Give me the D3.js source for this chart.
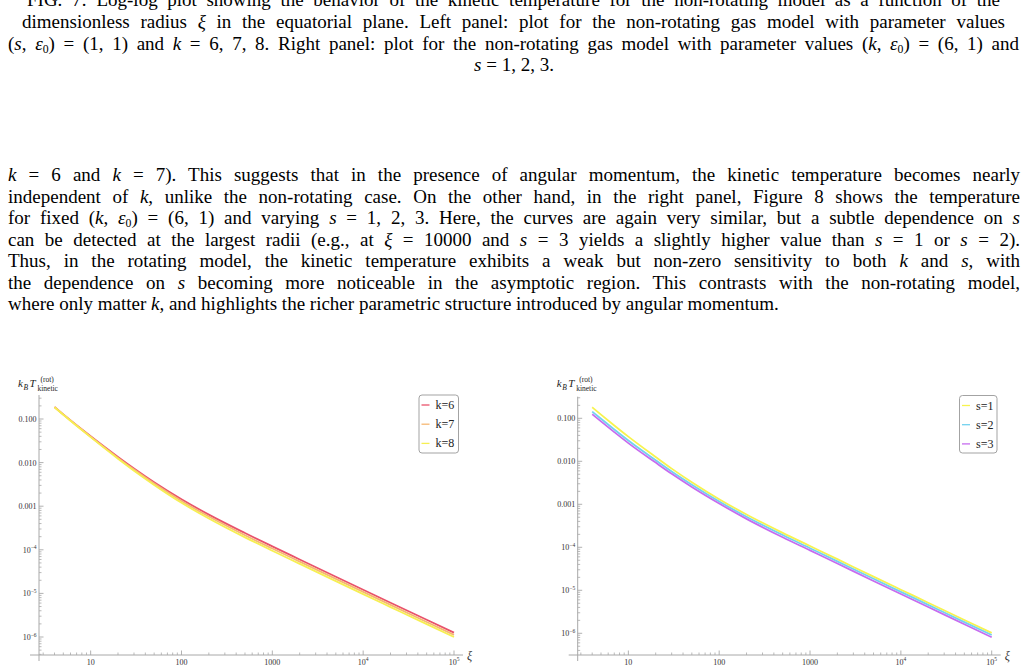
<!DOCTYPE html>
<html><head><meta charset="utf-8">
<script src="https://cdn.jsdelivr.net/npm/d3@7"></script>
<style>body{margin:0;background:#fff;} svg{display:block;}</style>
</head><body><svg id="c" width="1027" height="670"></svg>
<script>
// ---------- data ----------
const xi = [4, 5, 7, 10, 20, 30, 50, 100, 200, 500, 1000, 2000, 5000, 10000, 20000, 50000, 100000];
const T_k6 = [0.188, 0.1276, 0.0722, 0.0401, 0.01346, 0.00732, 0.003538, 0.001442, 6.41e-4, 2.423e-4, 1.199e-4, 6.004e-5, 2.412e-5, 1.213e-5, 6.115e-6, 2.48e-6, 1.256e-6];
const T_k7 = [0.1867, 0.1264, 0.0712, 0.0392, 0.01285, 0.00691, 0.003302, 0.001315, 5.78e-4, 2.16e-4, 1.069e-4, 5.35e-5, 2.15e-5, 1.081e-5, 5.45e-6, 2.21e-6, 1.119e-6];
const T_k8 = [0.1859, 0.1253, 0.0702, 0.0383, 0.01228, 0.00652, 0.003082, 0.0012, 5.21e-4, 1.925e-4, 9.52e-5, 4.77e-5, 1.916e-5, 9.63e-6, 4.86e-6, 1.97e-6, 9.98e-7];
const T_s1 = [0.1803, 0.1219, 0.0682, 0.03744, 0.01257, 0.006756, 0.003264, 0.001315, 5.78e-4, 2.16e-4, 1.069e-4, 5.29e-5, 2.077e-5, 1.033e-5, 5.148e-6, 2.039e-6, 1.021e-6];
const T_s2 = [0.1432, 0.0973, 0.0549, 0.03043, 0.01058, 0.005777, 0.002843, 0.001159, 5.13e-4, 1.925e-4, 9.53e-5, 4.715e-5, 1.851e-5, 9.21e-6, 4.588e-6, 1.817e-6, 9.1e-7];
const T_s3 = [0.1244, 0.0847, 0.0478, 0.0265, 0.00932, 0.005125, 0.002534, 0.001045, 4.59e-4, 1.716e-4, 8.49e-5, 4.2e-5, 1.65e-5, 8.2e-6, 4.09e-6, 1.62e-6, 8.11e-7];
const kLabels = ["k=6", "k=7", "k=8"];
const sLabels = ["s=1", "s=2", "s=3"];
const xMajor = [10, 100, 1000, 10000, 100000];
const xTickLabels = [["10",""], ["100",""], ["1000",""], ["10","4"], ["10","5"]];
const yMajor = [0.1, 0.01, 0.001, 1e-4, 1e-5, 1e-6];
const yTickLabels = [["0.100",""], ["0.010",""], ["0.001",""], ["10","\u22124"], ["10","\u22125"], ["10","\u22126"]];

const captionLines = [
  "FIG. 7: Log-log plot showing the behavior of the kinetic temperature for the non-rotating model as a function of the",
  "dimensionless radius {i:\u03be} in the equatorial plane. Left panel: plot for the non-rotating gas model with parameter values",
  "({i:s}, {i:\u03b5}{s:0}) = (1, 1) and {i:k} = 6, 7, 8. Right panel: plot for the non-rotating gas model with parameter values ({i:k}, {i:\u03b5}{s:0}) = (6, 1) and",
  "{i:s} = 1, 2, 3."
];
const paraLines = [
  "{i:k} = 6 and {i:k} = 7). This suggests that in the presence of angular momentum, the kinetic temperature becomes nearly",
  "independent of {i:k}, unlike the non-rotating case. On the other hand, in the right panel, Figure 8 shows the temperature",
  "for fixed ({i:k}, {i:\u03b5}{s:0}) = (6, 1) and varying {i:s} = 1, 2, 3. Here, the curves are again very similar, but a subtle dependence on {i:s}",
  "can be detected at the largest radii (e.g., at {i:\u03be} = 10000 and {i:s} = 3 yields a slightly higher value than {i:s} = 1 or {i:s} = 2).",
  "Thus, in the rotating model, the kinetic temperature exhibits a weak but non-zero sensitivity to both {i:k} and {i:s}, with",
  "the dependence on {i:s} becoming more noticeable in the asymptotic region. This contrasts with the non-rotating model,",
  "where only matter {i:k}, and highlights the richer parametric structure introduced by angular momentum."
];

// ---------- drawing ----------
const svg = d3.select("#c");
const SERIF = "'Liberation Serif','Times New Roman',serif";
const FS = 19;

function rich(g, str, x, y, width, size, anchor) {
  const t = g.append("text").attr("x", x).attr("y", y)
    .attr("font-family", SERIF).attr("font-size", size).attr("fill", "#000");
  if (anchor) t.attr("text-anchor", anchor);
  const re = /\{([is]):([^}]*)\}/g;
  let last = 0, m, pendingUp = false, plain = "";
  const push = (txt, italic, sub) => {
    plain += txt;
    const ts = t.append("tspan").text(txt);
    if (italic) ts.attr("font-style", "italic");
    if (sub) { ts.attr("font-size", size * 0.62).attr("dy", 3); }
    else if (pendingUp) { ts.attr("dy", -3); }
    pendingUp = !!sub;
  };
  while ((m = re.exec(str))) {
    if (m.index > last) push(str.slice(last, m.index), false, false);
    if (m[1] === "i") push(m[2], true, false); else push(m[2], false, true);
    last = re.lastIndex;
  }
  if (last < str.length) push(str.slice(last), false, false);
  if (width) {
    const nat = t.node().getComputedTextLength();
    const nSp = (plain.match(/ /g) || []).length;
    if (nSp > 0) t.attr("word-spacing", (width - nat) / nSp);
  }
}

// caption
const capG = svg.append("g");
const capBase = [6, 28, 49.5, 71];
const capX = [[27, 1000], [22, 1005], [8, 1019]];
captionLines.forEach((s, i) => {
  if (i < 3) rich(capG, s, capX[i][0], capBase[i], capX[i][1] - capX[i][0], FS);
  else rich(capG, s, 514, capBase[i], 0, FS, "middle");
});

// paragraph
const parG = svg.append("g");
paraLines.forEach((s, i) => {
  const w = i === paraLines.length - 1 ? 0 : 1012;
  rich(parG, s, 8, 181 + i * 21.5, w, FS);
});

// panels
const panels = [
  { xDomain: [2.7, 1e5], xRange: [39, 454], yDomain: [3.866e-7, 0.3552], yRange: [655, 395],
    series: [T_k6, T_k7, T_k8], colors: ["#e9536b", "#f6b772", "#f6ef52"], labels: kLabels,
    legend: { x: 419, y: 395, w: 39.5, h: 58 } },
  { xDomain: [2.77, 1e5], xRange: [577.7, 991.7], yDomain: [3.128e-7, 0.3178], yRange: [655, 396.7],
    series: [T_s1, T_s2, T_s3], colors: ["#f7f34e", "#72d2ef", "#c66cef"], labels: sLabels,
    legend: { x: 959.5, y: 395.5, w: 37.5, h: 57.5 } }
];

const AX = "#a8a8a8";
panels.forEach(p => {
  const g = svg.append("g");
  const x = d3.scaleLog().domain(p.xDomain).range(p.xRange);
  const y = d3.scaleLog().domain(p.yDomain).range(p.yRange);
  const x0 = p.xRange[0], y0 = p.yRange[0];

  g.append("line").attr("x1", x0 - 9).attr("x2", x(1e5) + 9).attr("y1", y0).attr("y2", y0)
    .attr("stroke", AX).attr("stroke-width", 1);
  g.append("line").attr("x1", x0).attr("x2", x0).attr("y1", p.yRange[1]).attr("y2", y0 + 6)
    .attr("stroke", AX).attr("stroke-width", 1);

  const xMinor = [];
  [1, 10, 100, 1000, 10000].forEach(d => { for (let m = 2; m <= 9; m++) xMinor.push(d * m); });
  xMinor.filter(v => v >= p.xDomain[0] && v <= p.xDomain[1]).forEach(v => {
    g.append("line").attr("x1", x(v)).attr("x2", x(v)).attr("y1", y0).attr("y2", y0 - 2.5)
      .attr("stroke", AX).attr("stroke-width", 0.8);
  });
  xMajor.forEach((v, i) => {
    g.append("line").attr("x1", x(v)).attr("x2", x(v)).attr("y1", y0).attr("y2", y0 - 4.5)
      .attr("stroke", AX).attr("stroke-width", 0.9);
    const lab = xTickLabels[i];
    const t = g.append("text").attr("x", x(v)).attr("y", y0 + 9.5).attr("text-anchor", "middle")
      .attr("font-family", SERIF).attr("font-size", 8).attr("fill", "#333");
    t.append("tspan").text(lab[0]);
    if (lab[1]) t.append("tspan").attr("font-size", 5.5).attr("dy", -3.5).text(lab[1]);
  });

  const yMinor = [];
  [1e-7, 1e-6, 1e-5, 1e-4, 1e-3, 1e-2, 1e-1].forEach(d => { for (let m = 2; m <= 9; m++) yMinor.push(d * m); });
  yMinor.filter(v => v >= p.yDomain[0] && v <= p.yDomain[1]).forEach(v => {
    g.append("line").attr("x1", x0).attr("x2", x0 + 2.5).attr("y1", y(v)).attr("y2", y(v))
      .attr("stroke", AX).attr("stroke-width", 0.8);
  });
  yMajor.forEach((v, i) => {
    g.append("line").attr("x1", x0).attr("x2", x0 + 4.5).attr("y1", y(v)).attr("y2", y(v))
      .attr("stroke", AX).attr("stroke-width", 0.9);
    const lab = yTickLabels[i];
    const t = g.append("text").attr("x", x0 - 2.5).attr("y", y(v) + 3).attr("text-anchor", "end")
      .attr("font-family", SERIF).attr("font-size", 8).attr("fill", "#333");
    t.append("tspan").text(lab[0]);
    if (lab[1]) t.append("tspan").attr("font-size", 5.5).attr("dy", -3.5).text(lab[1]);
  });

  const ly = 387;
  g.append("text").attr("x", x0 - 21).attr("y", ly).attr("font-family", SERIF).attr("font-size", 11)
    .attr("font-style", "italic").attr("fill", "#222").text("k");
  g.append("text").attr("x", x0 - 15.5).attr("y", ly + 2.5).attr("font-family", SERIF).attr("font-size", 7.5)
    .attr("font-style", "italic").attr("fill", "#222").text("B");
  g.append("text").attr("x", x0 - 9.5).attr("y", ly).attr("font-family", SERIF).attr("font-size", 11)
    .attr("font-style", "italic").attr("fill", "#222").text("T");
  g.append("text").attr("x", x0 + 1.5).attr("y", ly - 5).attr("font-family", SERIF).attr("font-size", 7.5)
    .attr("fill", "#222").text("(rot)");
  g.append("text").attr("x", x0 - 1.5).attr("y", ly + 3.5).attr("font-family", SERIF).attr("font-size", 7.5)
    .attr("fill", "#222").text("kinetic");
  g.append("text").attr("x", x(1e5) + 13).attr("y", y0 + 5).attr("font-family", SERIF).attr("font-size", 12)
    .attr("font-style", "italic").attr("fill", "#333").text("\u03be");

  const line = d3.line().x((d, i) => x(xi[i])).y(d => y(d)).curve(d3.curveMonotoneX);
  p.series.forEach((s, i) => {
    g.append("path").datum(s).attr("d", line).attr("fill", "none")
      .attr("stroke", p.colors[i]).attr("stroke-width", 1.8);
  });

  const L = p.legend;
  g.append("rect").attr("x", L.x).attr("y", L.y).attr("width", L.w).attr("height", L.h)
    .attr("rx", 3).attr("fill", "#fff").attr("stroke", "#999").attr("stroke-width", 0.9);
  p.labels.forEach((lab, i) => {
    const cy = L.y + 10 + i * 19.2;
    g.append("line").attr("x1", L.x + 2.5).attr("x2", L.x + 10.5).attr("y1", cy).attr("y2", cy)
      .attr("stroke", p.colors[i]).attr("stroke-width", 1.3);
    g.append("text").attr("x", L.x + 16.5).attr("y", cy + 4).attr("font-family", SERIF)
      .attr("font-size", 12).attr("fill", "#222").text(lab);
  });
});
</script></body></html>
